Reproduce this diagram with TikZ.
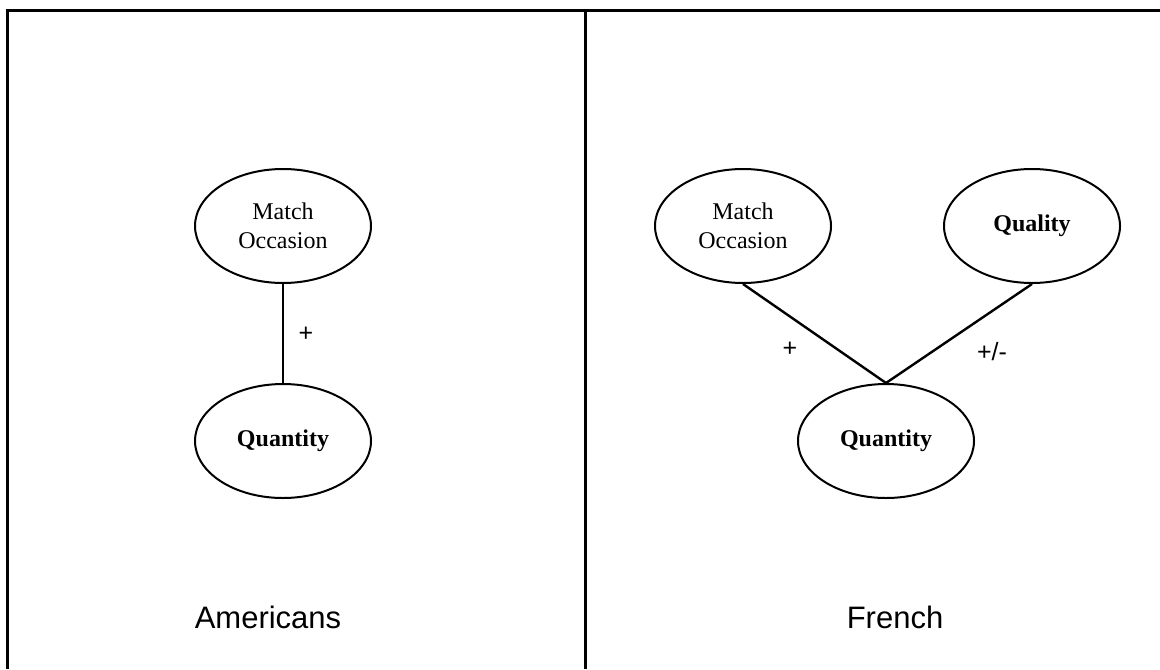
\documentclass[tikz,border=0pt]{standalone}
\usepackage{fontspec}
\setmainfont{Liberation Serif}
\setsansfont{Liberation Sans}
\usepackage{tikz}
\usetikzlibrary{shapes.geometric}

\begin{document}
\begin{tikzpicture}[x=0.5pt,y=-0.5pt,
    factor/.style={draw,ellipse,line width=1pt,minimum width=88pt,minimum height=57pt,
      inner sep=0pt,align=center,font=\fontsize{12}{14.5}\selectfont},
    link/.style={line width=1.2pt},
    sign/.style={font=\sffamily\fontsize{12.5}{14}\selectfont},
    group/.style={font=\sffamily\fontsize{15.5}{18}\selectfont}]
  \useasboundingbox (0,0) rectangle (1160,669);

  % Frame
  \draw[line width=1.5pt] (7,669) -- (7,10) -- (1160,10);
  \draw[line width=1.5pt] (585,10) -- (585,669);

  % Americans
  \node[factor] (amatch) at (283,226) {Match\\Occasion};
  \node[factor] (aquant) at (283,441) {\textbf{Quantity}};
  \draw[link] (amatch.south) -- (aquant.north);
  \node[sign] (aplus) at (306,334) {+};
  \node[group] (american) at (268,617) {Americans};

  % French
  \node[factor] (fmatch) at (743,226) {Match\\Occasion};
  \node[factor] (fqual) at (1032,226) {\textbf{Quality}};
  \node[factor] (fquant) at (886,441) {\textbf{Quantity}};
  \draw[link] (fmatch.south) -- (fquant.north);
  \draw[link] (fqual.south) -- (fquant.north);
  \node[sign] (fplus) at (790,349) {+};
  \node[sign] (fmixed) at (992,352) {+/-};
  \node[group] (french) at (895,617) {French};
\end{tikzpicture}
\end{document}
